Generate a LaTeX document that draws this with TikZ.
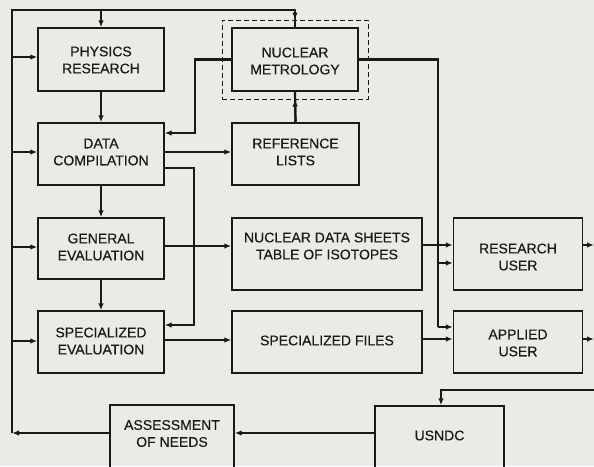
\documentclass[tikz,border=0pt]{standalone}
\usepackage{fontspec}
\setmainfont{Liberation Sans}[FakeBold=0.3]
\usetikzlibrary{arrows.meta}
\definecolor{bg}{RGB}{236,234,229}
\definecolor{ink}{RGB}{25,25,25}
\begin{document}
\begin{tikzpicture}[x=1pt,y=-1pt,
  box/.style={draw=ink, line width=1.4pt, inner sep=0pt},
  dashbox/.style={draw=ink, line width=1pt, dash pattern=on 5pt off 3pt, inner sep=0pt},
  lbl/.style={font=\fontsize{14}{17}\selectfont, align=center, text=ink, inner sep=0pt},
  conn/.style={draw=ink, line width=2.2pt},
  arr/.style={conn, -{Latex[length=7pt,width=5.5pt]}},
]
\fill[bg] (0,0) rectangle (594,466);
\useasboundingbox (0,0) rectangle (594,466);

% boxes
\node[box, minimum width=126pt, minimum height=63pt] (phys) at (101,59.5) {};
\node[lbl] (physT) at (101,60) {PHYSICS\\RESEARCH};
\node[box, minimum width=126pt, minimum height=62pt] (data) at (101,154) {};
\node[lbl] (dataT) at (101,152) {DATA\\COMPILATION};
\node[box, minimum width=126pt, minimum height=61pt] (gen) at (101,248.5) {};
\node[lbl] (genT) at (101,247) {GENERAL\\EVALUATION};
\node[box, minimum width=126pt, minimum height=62pt] (spec) at (101,342) {};
\node[lbl] (specT) at (101,341) {SPECIALIZED\\EVALUATION};
\node[box, minimum width=124pt, minimum height=66pt] (assess) at (172,438) {};
\node[lbl] (assessT) at (172,433.5) {ASSESSMENT\\OF NEEDS};

\node[dashbox, minimum width=146pt, minimum height=79pt] (frame) at (295,59.5) {};
\node[box, minimum width=126pt, minimum height=63pt] (metro) at (295,59.5) {};
\node[lbl] (metroT) at (295,61) {NUCLEAR\\METROLOGY};
\node[box, minimum width=127pt, minimum height=62pt] (ref) at (295.5,154) {};
\node[lbl] (refT) at (295.5,152) {REFERENCE\\LISTS};
\node[box, minimum width=190pt, minimum height=72pt] (nds) at (327,254) {};
\node[lbl] (ndsT) at (327,246) {NUCLEAR DATA SHEETS\\TABLE OF ISOTOPES};
\node[box, minimum width=190pt, minimum height=62pt] (sfiles) at (327,342) {};
\node[lbl] (sfilesT) at (327,340.5) {SPECIALIZED FILES};
\node[box, minimum width=129pt, minimum height=66pt] (usndc) at (439.5,439) {};
\node[lbl] (usndcT) at (439.5,435.5) {USNDC};

\node[box, minimum width=129pt, minimum height=72pt] (ruser) at (518,254) {};
\node[lbl] (ruserT) at (518,257) {RESEARCH\\USER};
\node[box, minimum width=129pt, minimum height=62pt] (auser) at (518,342) {};
\node[lbl] (auserT) at (518,343) {APPLIED\\USER};

% left bus
\coordinate (tl) at (12,10);
\coordinate (bl) at (12,433);
\draw[arr] (bl -| assess.west) -- (bl);
\draw[conn, line join=miter] (bl) -- (tl) -- (tl -| frame.north) -- (metro.north);
\draw[arr] (tl -| frame.north) -- (frame.north);
\draw[arr] (tl -| phys.north) -- (phys.north);
\coordinate (b1) at (12,57);
\coordinate (b2) at (12,152);
\coordinate (b3) at (12,247);
\coordinate (b4) at (12,341);
\draw[arr] (b1) -- (b1 -| phys.west);
\draw[arr] (b2) -- (b2 -| data.west);
\draw[arr] (b3) -- (b3 -| gen.west);
\draw[arr] (b4) -- (b4 -| spec.west);

% vertical chain
\draw[arr] (phys.south) -- (phys.south |- data.north);
\draw[arr] (data.south) -- (gen.north);
\draw[arr] (gen.south) -- (spec.north);

% metrology left to data compilation
\coordinate (k1) at (195,59.5);
\coordinate (k2) at (195,133);
\draw[arr] (metro.west) -- (k1) -- (k2) -- (k2 -| data.east);

% data compilation to reference lists
\coordinate (d1) at (163,152);
\draw[arr] (d1 -| data.east) -- (d1 -| ref.west);
% data compilation to specialized evaluation
\coordinate (d2) at (194,168);
\coordinate (d3) at (194,325);
\draw[arr] (d2 -| data.east) -- (d2) -- (d3) -- (d3 -| spec.east);

% reference lists up to metrology
\draw[conn] (ref.north) -- (metro.south);
\draw[arr] (ref.north) -- (frame.south);

% evaluations to products
\coordinate (e1) at (200,246);
\draw[arr] (e1 -| gen.east) -- (e1 -| nds.west);
\coordinate (e2) at (200,340);
\draw[arr] (e2 -| spec.east) -- (e2 -| sfiles.west);

% metrology right bus
\coordinate (m1) at (438,59.5);
\coordinate (m2) at (438,327);
\coordinate (m3) at (438,263);
\draw[conn] (metro.east) -- (m1) -- (m2);
\draw[arr] (m2) -- (m2 -| auser.west);
\draw[arr] (m3) -- (m3 -| ruser.west);

% products to users
\coordinate (p1) at (430,245);
\draw[arr] (p1 -| nds.east) -- (p1 -| ruser.west);
\coordinate (p2) at (430,339);
\draw[arr] (p2 -| sfiles.east) -- (p2 -| auser.west);

% users out
\coordinate (o1) at (594,245);
\coordinate (o2) at (594,339);
\draw[arr] (o1 -| ruser.east) -- (o1);
\draw[arr] (o2 -| auser.east) -- (o2);

% return to USNDC
\coordinate (r1) at (594,390);
\coordinate (r2) at (441,390);
\draw[arr] (r1) -- (r2) -- (r2 |- usndc.north);

% USNDC to assessment
\draw[arr] (bl -| usndc.west) -- (bl -| assess.east);
\end{tikzpicture}
\end{document}
